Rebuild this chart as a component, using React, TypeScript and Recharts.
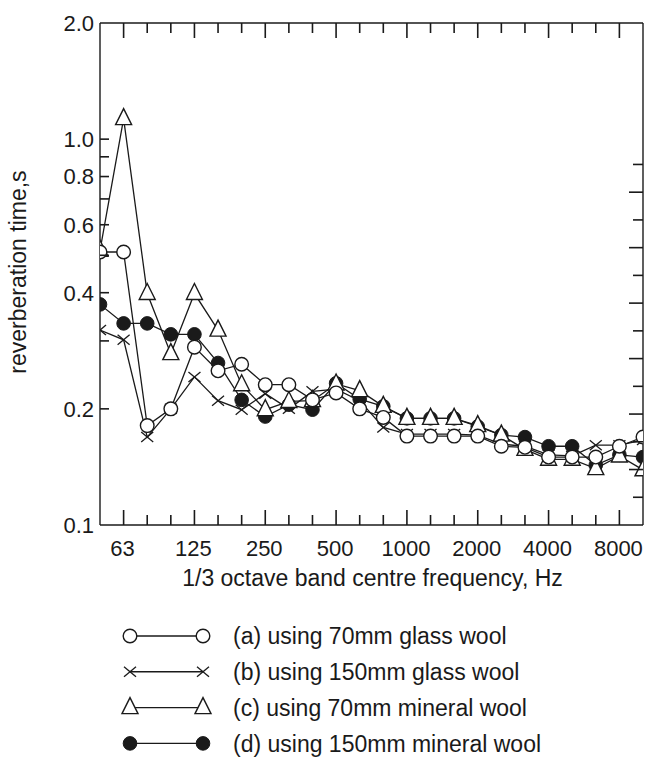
import React from 'react';
import { LineChart, Line, XAxis, YAxis, Legend } from 'recharts';

// 1/3 octave band centre frequencies, Hz
const BANDS = [
  50, 63, 80, 100, 125, 160, 200, 250, 315, 400, 500, 630, 800, 1000, 1250,
  1600, 2000, 2500, 3150, 4000, 5000, 6300, 8000, 10000,
];
const LABELLED_BANDS = [63, 125, 250, 500, 1000, 2000, 4000, 8000];

// reverberation time, s
const glassWool70 = [
  0.51, 0.51, 0.181, 0.2, 0.289, 0.251, 0.261, 0.231, 0.231, 0.211, 0.22, 0.2,
  0.19, 0.17, 0.17, 0.17, 0.17, 0.16, 0.159, 0.15, 0.15, 0.15, 0.16, 0.169,
];
const glassWool150 = [
  0.32, 0.302, 0.169, 0.2, 0.242, 0.21, 0.199, 0.219, 0.2, 0.222, 0.225, 0.21,
  0.179, 0.172, 0.172, 0.172, 0.171, 0.162, 0.16, 0.152, 0.151, 0.161, 0.161, 0.166,
];
const mineralWool70 = [
  0.515, 1.13, 0.398, 0.278, 0.398, 0.32, 0.231, 0.199, 0.209, 0.21, 0.232, 0.223,
  0.203, 0.189, 0.189, 0.189, 0.181, 0.171, 0.157, 0.148, 0.148, 0.14, 0.151, 0.139,
];
const mineralWool150 = [
  0.373, 0.333, 0.333, 0.312, 0.312, 0.263, 0.211, 0.191, 0.205, 0.199, 0.233, 0.212,
  0.203, 0.189, 0.189, 0.189, 0.18, 0.171, 0.169, 0.16, 0.16, 0.143, 0.152, 0.15,
];

const Y_TICKS = [0.1, 0.2, 0.3, 0.4, 0.5, 0.6, 0.7, 0.8, 0.9, 1.0, 2.0];
const Y_LABELS = [0.1, 0.2, 0.4, 0.6, 0.8, 1.0, 2.0];
// unlabelled linear ticks on the right frame
const RIGHT_TICKS = [1, 2, 3, 4, 5, 6, 7, 8, 9, 10, 11, 12, 13];

const SERIES = [
  { key: 'a', name: '(a) using 70mm glass wool', marker: 'circle' },
  { key: 'b', name: '(b) using 150mm glass wool', marker: 'cross' },
  { key: 'c', name: '(c) using 70mm mineral wool', marker: 'triangle' },
  { key: 'd', name: '(d) using 150mm mineral wool', marker: 'dot' },
];

const data = BANDS.map((f, i) => ({
  idx: i,
  band: f,
  a: glassWool70[i],
  b: glassWool150[i],
  c: mineralWool70[i],
  d: mineralWool150[i],
}));

const INK = '#1a1a1a';
const FONT = '"Liberation Sans", Arial, sans-serif';
const FS_TICK = 22;
const FS = 23;

function marker(type: string, cx: number, cy: number, key?: any) {
  if (type === 'circle')
    return <circle key={key} cx={cx} cy={cy} r={6.8} fill="#fff" stroke={INK} strokeWidth={1.4} />;
  if (type === 'dot')
    return <circle key={key} cx={cx} cy={cy} r={6.8} fill={INK} stroke={INK} strokeWidth={1} />;
  if (type === 'triangle')
    return (
      <polygon
        key={key}
        points={`${cx},${cy - 10} ${cx - 8},${cy + 6} ${cx + 8},${cy + 6}`}
        fill="#fff"
        stroke={INK}
        strokeWidth={1.4}
      />
    );
  return (
    <g key={key} stroke={INK} strokeWidth={1.3}>
      <line x1={cx - 6} y1={cy - 5} x2={cx + 6} y2={cy + 5} />
      <line x1={cx - 6} y1={cy + 5} x2={cx + 6} y2={cy - 5} />
    </g>
  );
}

const dotFor = (type: string) => (props: any) =>
  marker(type, props.cx, props.cy, `${type}-${props.index}`);

const LeftTick = (props: any) => {
  const { x, y, payload } = props;
  const v = payload.value;
  return (
    <g>
      {v > 0.1 && v < 2 && <line x1={x} x2={x + 9} y1={y} y2={y} stroke={INK} strokeWidth={1.6} />}
      {Y_LABELS.includes(v) && (
        <text x={x - 6} y={y} dy="0.36em" textAnchor="end" fontSize={FS_TICK} fill={INK} fontFamily={FONT}>
          {v.toFixed(1)}
        </text>
      )}
    </g>
  );
};

const RightTick = (props: any) => {
  const { x, y, payload } = props;
  const len = payload.value % 2 === 0 ? 14 : 10;
  return <line x1={x} x2={x - len} y1={y} y2={y} stroke={INK} strokeWidth={1.6} />;
};

const BottomTick = (props: any) => {
  const { x, y, payload } = props;
  const band = BANDS[payload.value];
  const major = LABELLED_BANDS.includes(band);
  const edge = payload.value === 0 || payload.value === BANDS.length - 1;
  return (
    <g>
      {!edge && <line x1={x} x2={x} y1={y} y2={y - (major ? 15 : 10)} stroke={INK} strokeWidth={1.6} />}
      {major && (
        <text x={x - 1} y={y + 31} textAnchor="middle" fontSize={FS_TICK} fill={INK} fontFamily={FONT}>
          {band}
        </text>
      )}
    </g>
  );
};

const TopTick = (props: any) => {
  const { x, y, payload } = props;
  const band = BANDS[payload.value];
  const major = LABELLED_BANDS.includes(band);
  const edge = payload.value === 0 || payload.value === BANDS.length - 1;
  if (edge) return <g />;
  return <line x1={x} x2={x} y1={y} y2={y + (major ? 15 : 10)} stroke={INK} strokeWidth={1.6} />;
};

const LegendRows = () => (
  <svg width={648} height={138} style={{ display: 'block' }}>
    {SERIES.map((s, i) => {
      const y = 16 + i * 35.8;
      return (
        <g key={s.key}>
          <line x1={130} x2={203} y1={y} y2={y} stroke={INK} strokeWidth={1.4} />
          {marker(s.marker, 130, y)}
          {marker(s.marker, 203, y)}
          <text x={233} y={y} dy="0.36em" fontSize={FS} fill={INK} fontFamily={FONT}>
            {s.name}
          </text>
        </g>
      );
    })}
  </svg>
);

export default function App() {
  const axisLine = { stroke: INK, strokeWidth: 1.4 };
  const lineOrder = ['b', 'd', 'c', 'a'];
  return (
    <div style={{ position: 'absolute', left: 0, top: 0, width: 648, height: 758, background: '#fff' }}>
      <LineChart
        width={648}
        height={758}
        data={data}
        margin={{ top: 22, right: 4, bottom: 173, left: 0 }}
        style={{ fontFamily: FONT }}
      >
        <XAxis
          xAxisId="bottom"
          dataKey="idx"
          type="number"
          domain={[0, BANDS.length - 1]}
          allowDataOverflow
          ticks={BANDS.map((_, i) => i)}
          interval={0}
          height={60}
          tickSize={0}
          tickMargin={0}
          tickLine={false}
          axisLine={axisLine}
          tick={(p: any) => <BottomTick {...p} />}
          label={{
            content: (p: any) => {
              const vb = p.viewBox || { x: 100, y: 525, width: 543 };
              return (
                <text
                  x={vb.x + vb.width / 2 + 1}
                  y={vb.y + 61}
                  textAnchor="middle"
                  fontSize={FS}
                  fill={INK}
                  fontFamily={FONT}
                >
                  1/3 octave band centre frequency, Hz
                </text>
              );
            },
          }}
        />
        <XAxis
          xAxisId="top"
          orientation="top"
          type="number"
          domain={[0, BANDS.length - 1]}
          allowDataOverflow
          ticks={BANDS.map((_, i) => i)}
          interval={0}
          height={1}
          tickSize={0}
          tickMargin={0}
          tickLine={false}
          axisLine={axisLine}
          tick={(p: any) => <TopTick {...p} />}
        />
        <YAxis
          yAxisId="left"
          type="number"
          scale="log"
          domain={[0.1, 2]}
          allowDataOverflow
          ticks={Y_TICKS}
          interval={0}
          width={100}
          tickSize={0}
          tickMargin={0}
          tickLine={false}
          axisLine={axisLine}
          tick={(p: any) => <LeftTick {...p} />}
          label={{
            content: (p: any) => {
              const vb = p.viewBox || { x: 0, y: 23, height: 502 };
              const cx = 18;
              const cy = vb.y + vb.height / 2 - 2;
              return (
                <text
                  x={cx}
                  y={cy}
                  dy="0.36em"
                  transform={`rotate(-90 ${cx} ${cy})`}
                  textAnchor="middle"
                  fontSize={FS}
                  fill={INK}
                  fontFamily={FONT}
                >
                  reverberation time,s
                </text>
              );
            },
          }}
        />
        <YAxis
          yAxisId="right"
          orientation="right"
          type="number"
          domain={[0, 18.1]}
          allowDataOverflow
          ticks={RIGHT_TICKS}
          interval={0}
          width={1}
          tickSize={0}
          tickMargin={0}
          tickLine={false}
          axisLine={axisLine}
          tick={(p: any) => <RightTick {...p} />}
        />
        <Legend
          layout="horizontal"
          verticalAlign="middle"
          align="center"
          width={648}
          height={138}
          wrapperStyle={{ top: 620, left: 0, width: 648, height: 138 }}
          content={() => <LegendRows />}
        />
        {lineOrder.map((k) => {
          const s = SERIES.find((x) => x.key === k)!;
          return (
            <Line
              key={k}
              xAxisId="bottom"
              yAxisId="left"
              dataKey={k}
              name={s.name}
              type="linear"
              stroke={INK}
              strokeWidth={1.3}
              dot={dotFor(s.marker)}
              activeDot={false}
              isAnimationActive={false}
            />
          );
        })}
      </LineChart>
    </div>
  );
}
